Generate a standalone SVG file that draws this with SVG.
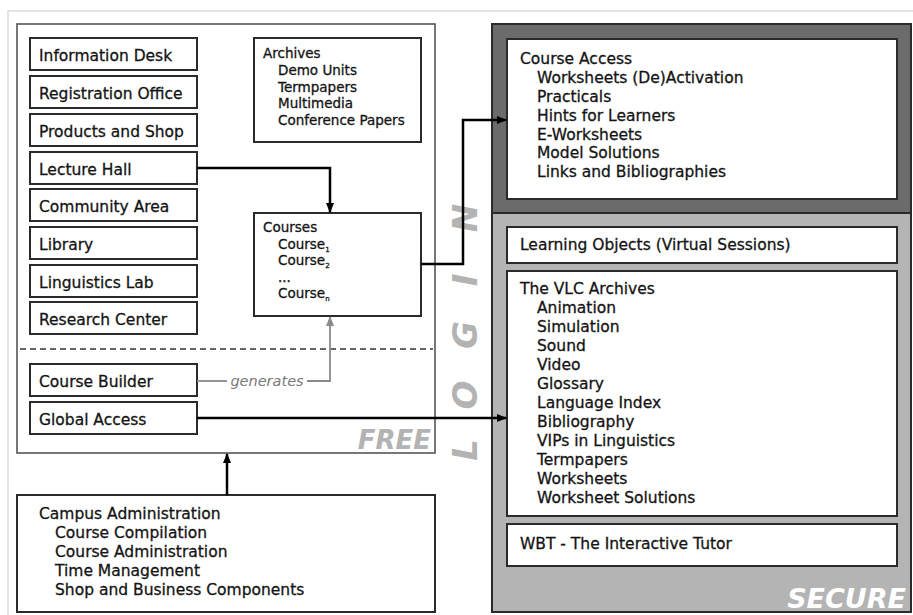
<svg xmlns="http://www.w3.org/2000/svg" width="913" height="615" viewBox="0 0 913 615">
<style>
  .box { fill: #ffffff; stroke: #2a2a2a; stroke-width: 2; }
  .t { font-family: "DejaVu Sans", Verdana, sans-serif; font-size: 15.5px; fill: #141414; stroke: #141414; stroke-width: 0.3px; }
  .s { font-family: "DejaVu Sans", Verdana, sans-serif; font-size: 13.5px; fill: #141414; stroke: #141414; stroke-width: 0.3px; }
  .conn { fill: none; stroke: #000; stroke-width: 2.5; }
  .gconn { fill: none; stroke: #8a8a8a; stroke-width: 1.8; }
  .big { font-family: "DejaVu Sans", Verdana, sans-serif; font-weight: bold; font-style: italic; }
</style>
<defs>
  <marker id="ah" markerWidth="10" markerHeight="10" refX="9" refY="5" orient="auto" markerUnits="userSpaceOnUse">
    <path d="M0,1 L10,5 L0,9 Z" fill="#000"/>
  </marker>
  <marker id="gah" markerWidth="10" markerHeight="10" refX="9" refY="5" orient="auto" markerUnits="userSpaceOnUse">
    <path d="M0,1 L10,5 L0,9 Z" fill="#8a8a8a"/>
  </marker>
</defs>
<rect width="913" height="615" fill="#ffffff"/>
<path d="M8,615 L8,11 L913,11" fill="none" stroke="#dcdcdc" stroke-width="1.5"/>

<!-- FREE area -->
<g id="free">
  <rect x="17" y="24" width="418" height="429" fill="#ffffff" stroke="#555" stroke-width="1.6"/>
  <line x1="20" y1="349" x2="433" y2="349" stroke="#666" stroke-width="2" stroke-dasharray="6,4"/>
  <text class="big" x="431" y="449" text-anchor="end" font-size="26" fill="#b3b3b3">FREE</text>
</g>

<g id="information-desk"><rect class="box" x="30" y="38" width="167" height="32"/><text class="t" x="39" y="61">Information Desk</text></g>
<g id="registration-office"><rect class="box" x="30" y="76" width="167" height="32"/><text class="t" x="39" y="99">Registration Office</text></g>
<g id="products-shop"><rect class="box" x="30" y="114" width="167" height="32"/><text class="t" x="39" y="137">Products and Shop</text></g>
<g id="lecture-hall"><rect class="box" x="30" y="152" width="167" height="32"/><text class="t" x="39" y="175">Lecture Hall</text></g>
<g id="community-area"><rect class="box" x="30" y="189" width="167" height="32"/><text class="t" x="39" y="212">Community Area</text></g>
<g id="library"><rect class="box" x="30" y="227" width="167" height="32"/><text class="t" x="39" y="250">Library</text></g>
<g id="linguistics-lab"><rect class="box" x="30" y="265" width="167" height="32"/><text class="t" x="39" y="288">Linguistics Lab</text></g>
<g id="research-center"><rect class="box" x="30" y="302" width="167" height="32"/><text class="t" x="39" y="325">Research Center</text></g>
<g id="course-builder"><rect class="box" x="30" y="364" width="167" height="32"/><text class="t" x="39" y="387">Course Builder</text></g>
<g id="global-access"><rect class="box" x="30" y="402" width="167" height="32"/><text class="t" x="39" y="425">Global Access</text></g>

<g id="archives">
  <rect class="box" x="254" y="38" width="167" height="104"/>
  <text class="s" x="263" y="58">Archives</text>
  <text class="s" x="278" y="75">Demo Units</text>
  <text class="s" x="278" y="91.5">Termpapers</text>
  <text class="s" x="278" y="108">Multimedia</text>
  <text class="s" x="278" y="124.5">Conference Papers</text>
</g>

<g id="courses">
  <rect class="box" x="254" y="213" width="167" height="103"/>
  <text class="s" x="263" y="232">Courses</text>
  <text class="s" x="278" y="248.5">Course<tspan font-size="7" dy="3">1</tspan></text>
  <text class="s" x="278" y="265">Course<tspan font-size="7" dy="3">2</tspan></text>
  <text class="s" x="278" y="281.5">...</text>
  <text class="s" x="278" y="298">Course<tspan font-size="7" dy="3">n</tspan></text>
</g>

<g id="campus-administration">
  <rect class="box" x="17" y="495" width="418" height="117"/>
  <text class="t" x="39" y="519">Campus Administration</text>
  <text class="t" x="55" y="538">Course Compilation</text>
  <text class="t" x="55" y="557">Course Administration</text>
  <text class="t" x="55" y="576">Time Management</text>
  <text class="t" x="55" y="595">Shop and Business Components</text>
</g>

<!-- LOGIN -->
<g id="login">
  <text class="big" transform="rotate(-90)" font-size="34" fill="#b3b3b3" text-anchor="middle" y="477" x="-450 -395 -335 -280 -218">LOGIN</text>
</g>

<!-- SECURE area -->
<g id="secure">
  <rect x="492" y="24" width="419" height="189" fill="#6b6b6b"/>
  <rect x="492" y="213" width="419" height="399" fill="#b4b4b4"/>
  <line x1="492" y1="213" x2="911" y2="213" stroke="#2a2a2a" stroke-width="2"/>
  <rect x="492" y="24" width="419" height="588" fill="none" stroke="#2a2a2a" stroke-width="2"/>
  <text class="big" x="906" y="608" text-anchor="end" font-size="27" fill="#ffffff">SECURE</text>
</g>

<g id="course-access">
  <rect class="box" x="507" y="39" width="390" height="160"/>
  <text class="t" x="520" y="64">Course Access</text>
  <text class="t" x="537" y="83">Worksheets (De)Activation</text>
  <text class="t" x="537" y="102">Practicals</text>
  <text class="t" x="537" y="120.5">Hints for Learners</text>
  <text class="t" x="537" y="139.5">E-Worksheets</text>
  <text class="t" x="537" y="158">Model Solutions</text>
  <text class="t" x="537" y="177">Links and Bibliographies</text>
</g>

<g id="learning-objects">
  <rect class="box" x="507" y="227" width="390" height="36"/>
  <text class="t" x="520" y="250">Learning Objects (Virtual Sessions)</text>
</g>

<g id="vlc-archives">
  <rect class="box" x="507" y="271" width="390" height="245"/>
  <text class="t" x="520" y="294">The VLC Archives</text>
  <text class="t" x="537" y="313">Animation</text>
  <text class="t" x="537" y="332">Simulation</text>
  <text class="t" x="537" y="351">Sound</text>
  <text class="t" x="537" y="370">Video</text>
  <text class="t" x="537" y="389">Glossary</text>
  <text class="t" x="537" y="408">Language Index</text>
  <text class="t" x="537" y="427">Bibliography</text>
  <text class="t" x="537" y="446">VIPs in Linguistics</text>
  <text class="t" x="537" y="465">Termpapers</text>
  <text class="t" x="537" y="484">Worksheets</text>
  <text class="t" x="537" y="503">Worksheet Solutions</text>
</g>

<g id="wbt">
  <rect class="box" x="507" y="524" width="390" height="42"/>
  <text class="t" x="520" y="549">WBT - The Interactive Tutor</text>
</g>

<!-- connectors -->
<g id="connectors">
  <path class="conn" d="M197,168 L330,168 L330,212" marker-end="url(#ah)"/>
  <path class="conn" d="M421,264 L463,264 L463,120 L506,120" marker-end="url(#ah)"/>
  <path class="conn" d="M197,418 L506,418" marker-end="url(#ah)"/>
  <path class="conn" d="M227,495 L227,454" marker-end="url(#ah)"/>
  <path class="gconn" d="M197,381 L227,381"/>
  <path class="gconn" d="M307,381 L330,381 L330,317" marker-end="url(#gah)"/>
  <text x="267" y="385.5" text-anchor="middle" font-family="'DejaVu Sans', Verdana, sans-serif" font-style="italic" font-size="14.5" fill="#7a7a7a">generates</text>
</g>
</svg>
